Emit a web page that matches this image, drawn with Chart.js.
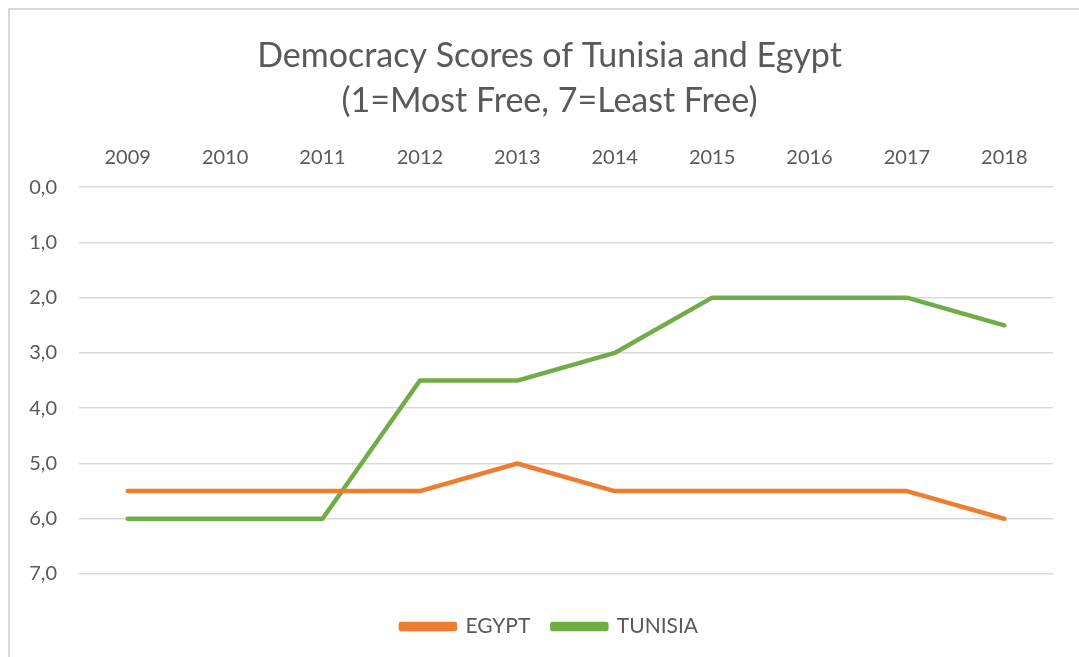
<!DOCTYPE html>
<html lang="en">
<head>
    <meta charset="UTF-8">
    <title>Democracy Scores of Tunisia and Egypt</title>
    <script src="https://cdn.jsdelivr.net/npm/chart.js"></script>
    <style>
        html, body {
            margin: 0;
            padding: 0;
            background: #ffffff;
            overflow: hidden;
        }
        .frame {
            position: absolute;
            left: 8px;
            top: 8px;
            width: 1200px;
            height: 800px;
            border: 2px solid #d9d9d9;
        }
        #chart {
            position: absolute;
            left: 0;
            top: 0;
        }
    </style>
</head>
<body>
    <div class="frame"></div>
    <canvas id="chart" width="1079" height="657"></canvas>

    <script>
        // Daten
        const years = ['2009', '2010', '2011', '2012', '2013', '2014', '2015', '2016', '2017', '2018'];
        const egypt = [5.5, 5.5, 5.5, 5.5, 5.0, 5.5, 5.5, 5.5, 5.5, 6.0];
        const tunisia = [6.0, 6.0, 6.0, 3.5, 3.5, 3.0, 2.0, 2.0, 2.0, 2.5];
        const yTicks = [0, 1, 2, 3, 4, 5, 6, 7];

        const FONT = 'Lato, "Open Sans", sans-serif';
        const TEXT = '#595959';

        const ctx = document.getElementById('chart').getContext('2d');
        new Chart(ctx, {
            type: 'line',
            data: {
                labels: years,
                datasets: [
                    {
                        label: 'EGYPT',
                        data: egypt,
                        borderColor: '#ED7D31',
                        backgroundColor: '#ED7D31',
                        borderWidth: 4.5,
                        pointRadius: 0,
                        tension: 0,
                        borderCapStyle: 'round',
                        borderJoinStyle: 'round'
                    },
                    {
                        label: 'TUNISIA',
                        data: tunisia,
                        borderColor: '#70AD47',
                        backgroundColor: '#70AD47',
                        borderWidth: 4.5,
                        pointRadius: 0,
                        tension: 0,
                        borderCapStyle: 'round',
                        borderJoinStyle: 'round'
                    }
                ]
            },
            options: {
                responsive: false,
                animation: false,
                layout: {
                    padding: { left: 20, right: 0, top: 0, bottom: 10 }
                },
                plugins: {
                    title: {
                        display: true,
                        text: ['Democracy Scores of Tunisia and Egypt', '(1=Most Free, 7=Least Free)'],
                        color: TEXT,
                        font: { family: FONT, size: 34, weight: 'normal', lineHeight: 1.34 },
                        padding: { top: 33, bottom: 8 }
                    },
                    legend: {
                        position: 'bottom',
                        title: {
                            // nur Abstand über den Einträgen
                            display: true,
                            text: '',
                            padding: 0,
                            font: { size: 20, lineHeight: 1 }
                        },
                        labels: {
                            color: TEXT,
                            font: { family: FONT, size: 21 },
                            boxWidth: 54,
                            boxHeight: 5,
                            padding: 22
                        }
                    },
                    tooltip: { enabled: false }
                },
                scales: {
                    x: {
                        position: 'top',
                        offset: true,
                        grid: { display: false, drawTicks: false },
                        border: { display: false },
                        ticks: {
                            color: TEXT,
                            font: { family: FONT, size: 20 },
                            padding: 18,
                            maxRotation: 0
                        },
                        afterFit: scale => { scale.height = 55; }
                    },
                    y: {
                        reverse: true,
                        min: 0,
                        max: 7,
                        afterBuildTicks: scale => {
                            scale.ticks = yTicks.map(v => ({ value: v }));
                        },
                        grid: { color: '#d9d9d9', lineWidth: 1.5, drawTicks: false },
                        border: { display: false },
                        ticks: {
                            color: TEXT,
                            font: { family: FONT, size: 20 },
                            padding: 22,
                            callback: v => v.toFixed(1).replace('.', ',')
                        },
                        afterFit: scale => { scale.width = 59; }
                    },
                    // leerer Rand rechts
                    yRight: {
                        position: 'right',
                        display: true,
                        grid: { display: false, drawTicks: false },
                        border: { display: false },
                        ticks: { display: false },
                        afterFit: scale => { scale.width = 26; }
                    }
                }
            }
        });
    </script>
</body>
</html>
